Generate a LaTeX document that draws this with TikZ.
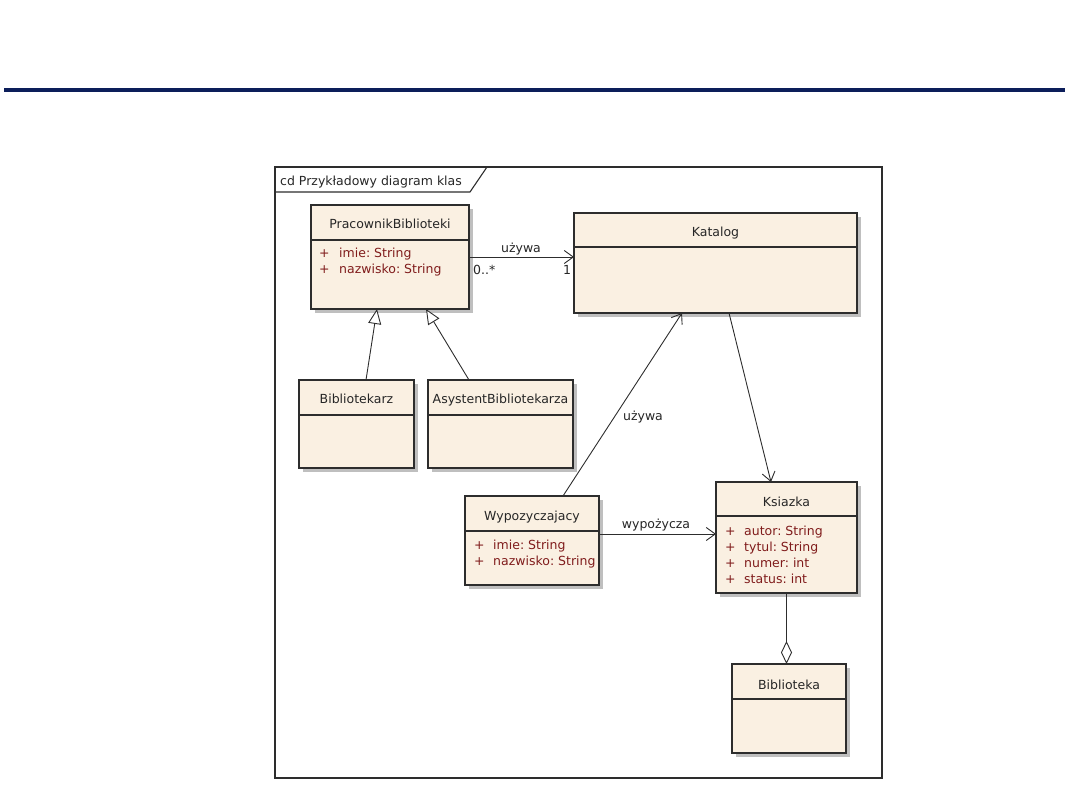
\documentclass[tikz,border=0pt]{standalone}
\usepackage{fontspec}
\setmainfont{DejaVu Sans}
\usetikzlibrary{arrows.meta,shadows,calc}
\definecolor{classfill}{RGB}{250,240,226}
\definecolor{edgecol}{RGB}{45,45,45}
\definecolor{attrcol}{RGB}{128,28,28}
\definecolor{rulecol}{RGB}{12,30,90}
\tikzset{
  cls/.style={draw=edgecol, fill=classfill, line width=1.1pt, inner sep=0pt, outer sep=0pt,
    anchor=north west,
    drop shadow={shadow xshift=4pt, shadow yshift=-4pt, fill=black!25, opacity=1}},
  hdr/.style={draw=edgecol, line width=1.1pt},
  ttl/.style={font=\fontsize{12.5}{14}\selectfont, text=black!85, inner sep=0pt, anchor=base},
  attr/.style={font=\fontsize{12.5}{14}\selectfont, text=attrcol, inner sep=0pt, anchor=base west},
  lbl/.style={font=\fontsize{12.5}{14}\selectfont, text=black!85, inner sep=0pt, anchor=base},
  conn/.style={draw=edgecol, line width=0.9pt},
  assoc/.style={conn, -{Straight Barb[length=9pt,width=13pt,line width=0.9pt]}},
  gen/.style={conn, -{Triangle[open,length=15pt,width=13pt,line width=0.9pt,fill=white]}},
  aggr/.style={conn, -{Diamond[open,length=23pt,width=11pt,line width=0.9pt,fill=white]}},
}
\begin{document}
\begin{tikzpicture}[x=1pt,y=-1pt]
\useasboundingbox (0,0) rectangle (1080,810);
% top rule
\fill[rulecol] (4,88) rectangle (1065,92);
% frame
\draw[edgecol, line width=1.4pt] (275,167) rectangle (882,778);
\draw[edgecol, line width=1.1pt] (275,192) -- (470,192) -- (487,167);
\node[font=\fontsize{12.5}{14}\selectfont, text=black!85, inner sep=0pt, anchor=base west] (frametitle) at (280,186) {cd Przykładowy diagram klas};

% PracownikBiblioteki
\node[cls, minimum width=158pt, minimum height=104pt] (pb) at (311,205) {};
\draw[hdr] ([yshift=-35pt]pb.north west) -- ([yshift=-35pt]pb.north east);
\node[ttl] (pbt) at (390,229) {PracownikBiblioteki};
\node[attr] (pba1) at (319,258) {+};
\node[attr] (pba2) at (339,258) {imie:\ String};
\node[attr] (pba3) at (319,274) {+};
\node[attr] (pba4) at (339,274) {nazwisko:\ String};

% Katalog
\node[cls, minimum width=283pt, minimum height=100pt] (kat) at (574,213) {};
\draw[hdr] ([yshift=-34pt]kat.north west) -- ([yshift=-34pt]kat.north east);
\node[ttl] (katt) at (715.5,237) {Katalog};

% Bibliotekarz
\node[cls, minimum width=115pt, minimum height=88pt] (bib) at (299,380) {};
\draw[hdr] ([yshift=-35pt]bib.north west) -- ([yshift=-35pt]bib.north east);
\node[ttl] (bibt) at (356.5,404) {Bibliotekarz};

% AsystentBibliotekarza
\node[cls, minimum width=145pt, minimum height=88pt] (asy) at (428,380) {};
\draw[hdr] ([yshift=-35pt]asy.north west) -- ([yshift=-35pt]asy.north east);
\node[ttl] (asyt) at (500.5,404) {AsystentBibliotekarza};

% Wypozyczajacy
\node[cls, minimum width=134pt, minimum height=89pt] (wyp) at (465,496) {};
\draw[hdr] ([yshift=-35pt]wyp.north west) -- ([yshift=-35pt]wyp.north east);
\node[ttl] (wypt) at (532,520) {Wypozyczajacy};
\node[attr] (wypa1) at (474,549) {+};
\node[attr] (wypa2) at (493,549) {imie:\ String};
\node[attr] (wypa3) at (474,565.5) {+};
\node[attr] (wypa4) at (493,565.5) {nazwisko:\ String};

% Ksiazka
\node[cls, minimum width=141pt, minimum height=111pt] (ks) at (716,482) {};
\draw[hdr] ([yshift=-34pt]ks.north west) -- ([yshift=-34pt]ks.north east);
\node[ttl] (kst) at (786.5,506) {Ksiazka};
\node[attr] (ksa1) at (725,535) {+};
\node[attr] (ksa2) at (744,535) {autor:\ String};
\node[attr] (ksa3) at (725,551) {+};
\node[attr] (ksa4) at (744,551) {tytul:\ String};
\node[attr] (ksa5) at (725,567) {+};
\node[attr] (ksa6) at (744,567) {numer:\ int};
\node[attr] (ksa7) at (725,583) {+};
\node[attr] (ksa8) at (744,583) {status:\ int};

% Biblioteka
\node[cls, minimum width=114pt, minimum height=89pt] (bibl) at (732,664) {};
\draw[hdr] ([yshift=-35pt]bibl.north west) -- ([yshift=-35pt]bibl.north east);
\node[ttl] (biblt) at (789,689) {Biblioteka};

% connectors
\draw[assoc] (pb.east) -- (pb.east -| kat.west);
\node[lbl] (l1) at (521,253) {używa};
\node[lbl, anchor=base west] (m1) at (473,275) {0..*};
\node[lbl] (m2) at (567,275) {1};

\draw[gen] ([xshift=9.5pt]bib.north) -- ([xshift=-13pt]pb.south);
\draw[gen] ([xshift=-31.5pt]asy.north) -- ([xshift=36pt]pb.south);

\draw[assoc] ([xshift=31pt]wyp.north) -- ([xshift=-33.5pt]kat.south);
\node[lbl] (l2) at (643,421) {używa};

\draw[assoc] ([xshift=13.5pt]kat.south) -- ([xshift=-15.5pt]ks.north);

\draw[assoc] ([yshift=6.5pt]wyp.east) -- ([yshift=6.5pt]wyp.east -| ks.west);
\node[lbl] (l3) at (656,528) {wypożycza};

\draw[aggr] (ks.south) -- (ks.south |- bibl.north);
\end{tikzpicture}
\end{document}
